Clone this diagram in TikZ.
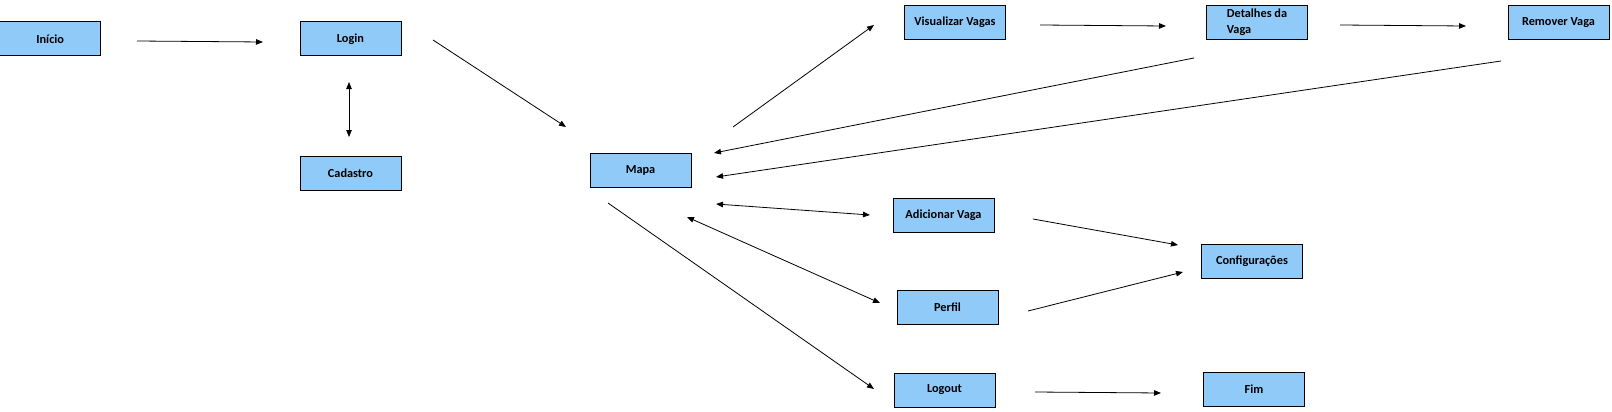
\documentclass[tikz,border=0pt]{standalone}
\usepackage{fontspec}
\setmainfont{Carlito}
\usetikzlibrary{arrows.meta}
\definecolor{boxblue}{RGB}{144,202,249}
\tikzset{
  box/.style={draw=black, line width=1pt, fill=boxblue, minimum width=101pt, minimum height=34pt,
    inner sep=0pt, font=\fontsize{12.3}{16}\selectfont\bfseries},
  arr/.style={line width=0.8pt, -{Triangle[length=7pt,width=5.5pt]}},
  darr/.style={line width=0.8pt, {Triangle[length=7pt,width=5.5pt]}-{Triangle[length=7pt,width=5.5pt]}}
}
\begin{document}
\begin{tikzpicture}[x=1pt,y=-1pt]
\useasboundingbox (0,0) rectangle (1612,412);
% nodes
\node[box] (inicio) at (50.2,39) {Início};
\node[box] (login) at (350.5,39) {Login};
\node[box] (cadastro) at (350.5,173) {Cadastro};
\node[box] (mapa) at (640.5,170) {Mapa};
\node[box] (visualizar) at (955,22.5) {Visualizar Vagas};
\node[box, align=left] (detalhes) at (1257,22.5) {Detalhes da\\Vaga};
\node[box] (remover) at (1558.5,22.5) {Remover Vaga};
\node[box] (adicionar) at (943.5,215.5) {Adicionar Vaga};
\node[box] (config) at (1252,261.5) {Configurações};
\node[box] (perfil) at (947.5,307) {Perfil};
\node[box] (logout) at (944.5,390) {Logout};
\node[box] (fim) at (1254,389) {Fim};
% connector end points
\coordinate (a1s) at (137,41);   \coordinate (a1e) at (263,42);
\coordinate (a2s) at (349,82);   \coordinate (a2e) at (349,137);
\coordinate (a3s) at (433,40);   \coordinate (a3e) at (566,127);
\coordinate (a4s) at (733,127);  \coordinate (a4e) at (874,25);
\coordinate (a5s) at (1040,25);  \coordinate (a5e) at (1166,26);
\coordinate (a6s) at (1340,25);  \coordinate (a6e) at (1466,26);
\coordinate (a7s) at (1194,58);  \coordinate (a7e) at (714,153);
\coordinate (a8s) at (1501,61);  \coordinate (a8e) at (716,177);
\coordinate (a9s) at (716,204);  \coordinate (a9e) at (870,215);
\coordinate (a10s) at (687,217); \coordinate (a10e) at (880,303);
\coordinate (a11s) at (608,203); \coordinate (a11e) at (874,389);
\coordinate (a12s) at (1033,219);\coordinate (a12e) at (1178,245);
\coordinate (a13s) at (1028,311);\coordinate (a13e) at (1183,272);
\coordinate (a14s) at (1035,392);\coordinate (a14e) at (1161,393);
% connectors
\draw[arr] (a1s) -- (a1e);
\draw[darr] (a2s) -- (a2e);
\draw[arr] (a3s) -- (a3e);
\draw[arr] (a4s) -- (a4e);
\draw[arr] (a5s) -- (a5e);
\draw[arr] (a6s) -- (a6e);
\draw[arr] (a7s) -- (a7e);
\draw[arr] (a8s) -- (a8e);
\draw[darr] (a9s) -- (a9e);
\draw[darr] (a10s) -- (a10e);
\draw[arr] (a11s) -- (a11e);
\draw[arr] (a12s) -- (a12e);
\draw[arr] (a13s) -- (a13e);
\draw[arr] (a14s) -- (a14e);
\end{tikzpicture}
\end{document}
